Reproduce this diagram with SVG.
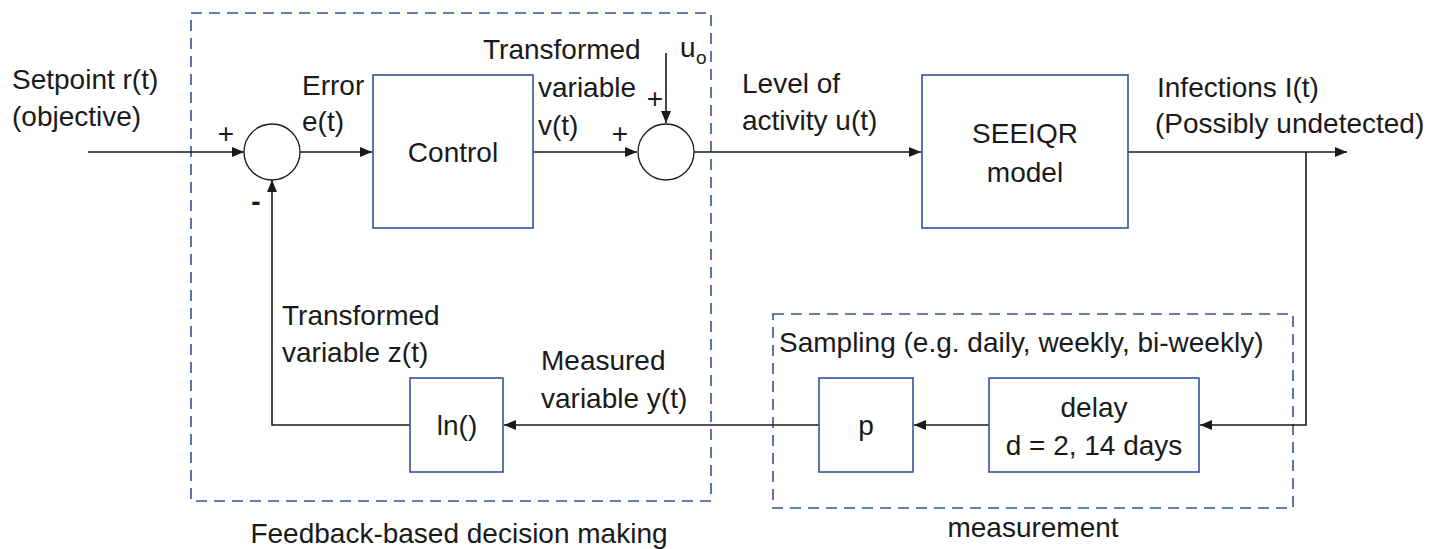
<svg xmlns="http://www.w3.org/2000/svg" width="1455" height="549" viewBox="0 0 1455 549">
<defs>
<style>
text{font-family:"Liberation Sans",Arial,sans-serif;font-size:28px;fill:#1a1a1a}
.mid{text-anchor:middle}
.box{fill:#fff;stroke:#2f5597;stroke-width:1.6}
.grp{fill:none;stroke:#2f5597;stroke-width:1.6;stroke-dasharray:11 7}
.sum{fill:#fff;stroke:#1a1a1a;stroke-width:1.3}
.wire{fill:none;stroke:#1a1a1a;stroke-width:1.6}
</style>
<marker id="ah" markerUnits="userSpaceOnUse" markerWidth="13" markerHeight="11" refX="12" refY="5" orient="auto">
<path d="M0,0 L12,5 L0,10 z" fill="#1a1a1a"/>
</marker>
</defs>
<rect width="1455" height="549" fill="#fff"/>

<g id="group-feedback">
<rect class="grp" x="191" y="13" width="520" height="488"/>
<text class="mid" x="459" y="543">Feedback-based decision making</text>
</g>
<g id="group-measurement">
<rect class="grp" x="773" y="314" width="520" height="194"/>
<text x="779" y="352">Sampling (e.g. daily, weekly, bi-weekly)</text>
<text class="mid" x="1033" y="537">measurement</text>
</g>

<g id="connectors">
<path class="wire" d="M88,152 H244" marker-end="url(#ah)"/>
<path class="wire" d="M300,152 H372" marker-end="url(#ah)"/>
<path class="wire" d="M533,152 H637" marker-end="url(#ah)"/>
<path class="wire" d="M666,53 V123" marker-end="url(#ah)"/>
<path class="wire" d="M694,152 H921" marker-end="url(#ah)"/>
<path class="wire" d="M1128,152 H1347" marker-end="url(#ah)"/>
<path class="wire" d="M1306,152 V425 H1200" marker-end="url(#ah)"/>
<path class="wire" d="M989,425 H914" marker-end="url(#ah)"/>
<path class="wire" d="M819,425 H504" marker-end="url(#ah)"/>
<path class="wire" d="M410,425 H272 V180" marker-end="url(#ah)"/>
</g>

<g id="sum1">
<circle class="sum" cx="272" cy="152" r="28"/>
<text class="mid" x="226" y="143">+</text>
<text class="mid" x="256" y="211" style="font-weight:bold">-</text>
</g>
<g id="control">
<rect class="box" x="373" y="75" width="160" height="153"/>
<text class="mid" x="453" y="162">Control</text>
</g>
<g id="sum2">
<circle class="sum" cx="666" cy="152" r="28"/>
<text class="mid" x="620" y="143">+</text>
<text class="mid" x="655" y="108">+</text>
</g>
<g id="seeiqr">
<rect class="box" x="922" y="75" width="206" height="153"/>
<text class="mid" x="1025" y="143">SEEIQR</text>
<text class="mid" x="1025" y="182">model</text>
</g>
<g id="delay">
<rect class="box" x="989" y="378" width="210" height="94"/>
<text class="mid" x="1094" y="417">delay</text>
<text class="mid" x="1094" y="455">d = 2, 14 days</text>
</g>
<g id="p">
<rect class="box" x="819" y="378" width="94" height="94"/>
<text class="mid" x="866" y="435">p</text>
</g>
<g id="ln">
<rect class="box" x="410" y="378" width="93" height="94"/>
<text class="mid" x="457" y="435">ln()</text>
</g>

<g id="labels">
<text x="12" y="89">Setpoint r(t)</text>
<text x="12" y="126">(objective)</text>
<text x="302" y="95">Error</text>
<text x="302" y="131">e(t)</text>
<text x="483" y="59">Transformed</text>
<text x="538" y="97">variable</text>
<text x="538" y="135">v(t)</text>
<text x="680" y="57">u</text>
<text x="696" y="64" style="font-size:19px">o</text>
<text x="742" y="93">Level of</text>
<text x="742" y="130">activity u(t)</text>
<text x="1157" y="97">Infections I(t)</text>
<text x="1155" y="133">(Possibly undetected)</text>
<text x="282" y="325">Transformed</text>
<text x="282" y="362">variable z(t)</text>
<text x="541" y="370">Measured</text>
<text x="541" y="408">variable y(t)</text>
</g>
</svg>
